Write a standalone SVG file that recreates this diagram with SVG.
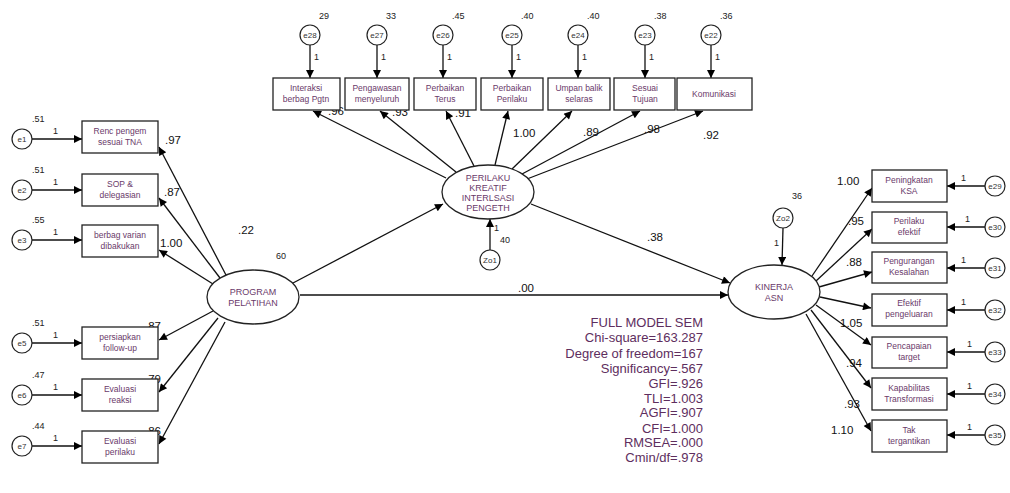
<svg xmlns="http://www.w3.org/2000/svg" width="1010" height="493" viewBox="0 0 1010 493">
<defs>
<marker id="ah" viewBox="0 0 10 10" refX="10" refY="5" markerWidth="11" markerHeight="8" markerUnits="userSpaceOnUse" orient="auto"><path d="M0,0 L10,5 L0,10 z" fill="#000"/></marker>
<style>
.bx{fill:#fff;stroke:#222;stroke-width:1.3}
.el{fill:#fff;stroke:#222;stroke-width:1.3}
.ec{fill:#fff;stroke:#222;stroke-width:1.2}
.bt{font-family:"Liberation Sans",Arial,sans-serif;font-size:8.5px;fill:#6a3a6a;text-anchor:middle}
.lt{font-family:"Liberation Sans",Arial,sans-serif;font-size:9px;fill:#6a3a6a;text-anchor:middle}
.et{font-family:"Liberation Sans",Arial,sans-serif;font-size:8px;fill:#333;text-anchor:middle}
.n{font-family:"Liberation Sans",Arial,sans-serif;font-size:11.5px;fill:#111}
.v{font-family:"Liberation Sans",Arial,sans-serif;font-size:9px;fill:#222}
.one{font-family:"Liberation Sans",Arial,sans-serif;font-size:9px;fill:#222}
.st{font-family:"Liberation Sans",Arial,sans-serif;font-size:13px;fill:#5e2e5e;text-anchor:end}
.c line{stroke:#111;stroke-width:1.3;marker-end:url(#ah)}
</style>
</defs>
<rect width="1010" height="493" fill="#fff"/>

<g class="c" id="connectors">
<line x1="310" y1="45" x2="310" y2="78"/>
<line x1="377" y1="45" x2="377" y2="78"/>
<line x1="443" y1="45" x2="443" y2="78"/>
<line x1="512" y1="45" x2="512" y2="78"/>
<line x1="578" y1="45" x2="578" y2="78"/>
<line x1="645" y1="45" x2="645" y2="78"/>
<line x1="711" y1="45" x2="711" y2="78"/>
<line x1="32" y1="139" x2="82" y2="139"/>
<line x1="32" y1="190" x2="82" y2="190"/>
<line x1="32" y1="240" x2="82" y2="240"/>
<line x1="32" y1="343" x2="82" y2="343"/>
<line x1="32" y1="395" x2="82" y2="395"/>
<line x1="32" y1="446" x2="82" y2="446"/>
<line x1="985" y1="186" x2="947" y2="186"/>
<line x1="985" y1="227" x2="947" y2="227"/>
<line x1="985" y1="268" x2="947" y2="268"/>
<line x1="985" y1="310" x2="947" y2="310"/>
<line x1="985" y1="352" x2="947" y2="352"/>
<line x1="985" y1="394" x2="947" y2="394"/>
<line x1="985" y1="435" x2="947" y2="435"/>
<line x1="446" y1="178" x2="313" y2="111"/>
<line x1="456" y1="172" x2="380" y2="111"/>
<line x1="474" y1="166" x2="446" y2="111"/>
<line x1="495" y1="165" x2="508" y2="111"/>
<line x1="512" y1="169" x2="572" y2="111"/>
<line x1="522" y1="174" x2="640" y2="111"/>
<line x1="527" y1="179" x2="703" y2="111"/>
<line x1="226" y1="275" x2="159" y2="147"/>
<line x1="220" y1="278" x2="159" y2="198"/>
<line x1="213" y1="284" x2="159" y2="250"/>
<line x1="213" y1="311" x2="159" y2="340"/>
<line x1="218" y1="318" x2="159" y2="392"/>
<line x1="225" y1="322" x2="159" y2="444"/>
<line x1="812" y1="276" x2="872" y2="188"/>
<line x1="816" y1="281" x2="872" y2="229"/>
<line x1="819" y1="287" x2="872" y2="272"/>
<line x1="820" y1="297" x2="871" y2="308"/>
<line x1="816" y1="305" x2="871" y2="345"/>
<line x1="811" y1="310" x2="871" y2="388"/>
<line x1="806" y1="314" x2="871" y2="431"/>
<line x1="293" y1="283" x2="443" y2="204"/>
<line x1="300" y1="295" x2="728" y2="295"/>
<line x1="531" y1="204" x2="730" y2="283"/>
<line x1="490" y1="250" x2="490" y2="219"/>
<line x1="783" y1="228" x2="782" y2="265"/>
</g>

<g id="labels-paths">
<text class="one" x="314" y="60">1</text>
<text class="one" x="381" y="60">1</text>
<text class="one" x="447" y="60">1</text>
<text class="one" x="516" y="60">1</text>
<text class="one" x="582" y="60">1</text>
<text class="one" x="649" y="60">1</text>
<text class="one" x="715" y="60">1</text>
<text class="one" x="53" y="134">1</text>
<text class="one" x="53" y="185">1</text>
<text class="one" x="53" y="235">1</text>
<text class="one" x="53" y="338">1</text>
<text class="one" x="53" y="390">1</text>
<text class="one" x="53" y="441">1</text>
<text class="one" x="961" y="181">1</text>
<text class="one" x="965" y="222">1</text>
<text class="one" x="961" y="263">1</text>
<text class="one" x="961" y="305">1</text>
<text class="one" x="967" y="347">1</text>
<text class="one" x="967" y="389">1</text>
<text class="one" x="967" y="430">1</text>
<text class="one" x="494" y="231">1</text>
<text class="one" x="774" y="246">1</text>
<text class="n" x="328" y="115">.96</text>
<text class="n" x="392" y="116">.93</text>
<text class="n" x="455" y="117">.91</text>
<text class="n" x="513" y="137">1.00</text>
<text class="n" x="583" y="136">.89</text>
<text class="n" x="644" y="133">.98</text>
<text class="n" x="703" y="139">.92</text>
<text class="n" x="165" y="144">.97</text>
<text class="n" x="164" y="196">.87</text>
<text class="n" x="160" y="247">1.00</text>
<text class="n" x="145" y="330">.87</text>
<text class="n" x="145" y="383">.79</text>
<text class="n" x="145" y="435">.86</text>
<text class="n" x="837" y="185">1.00</text>
<text class="n" x="848" y="225">.95</text>
<text class="n" x="846" y="266">.88</text>
<text class="n" x="840" y="327">1.05</text>
<text class="n" x="846" y="367">.94</text>
<text class="n" x="844" y="408">.93</text>
<text class="n" x="831" y="434">1.10</text>
<text class="n" x="238" y="234">.22</text>
<text class="n" x="518" y="292">.00</text>
<text class="n" x="647" y="241">.38</text>
</g>

<g id="e28"><circle class="ec" cx="310" cy="35" r="10"/><text class="et" x="310" y="38">e28</text><text class="v" x="319" y="19">29</text></g>
<g id="e27"><circle class="ec" cx="377" cy="35" r="10"/><text class="et" x="377" y="38">e27</text><text class="v" x="386" y="19">33</text></g>
<g id="e26"><circle class="ec" cx="443" cy="35" r="10"/><text class="et" x="443" y="38">e26</text><text class="v" x="452" y="19">.45</text></g>
<g id="e25"><circle class="ec" cx="512" cy="35" r="10"/><text class="et" x="512" y="38">e25</text><text class="v" x="521" y="19">.40</text></g>
<g id="e24"><circle class="ec" cx="578" cy="35" r="10"/><text class="et" x="578" y="38">e24</text><text class="v" x="587" y="19">.40</text></g>
<g id="e23"><circle class="ec" cx="645" cy="35" r="10"/><text class="et" x="645" y="38">e23</text><text class="v" x="654" y="19">.38</text></g>
<g id="e22"><circle class="ec" cx="711" cy="35" r="10"/><text class="et" x="711" y="38">e22</text><text class="v" x="720" y="19">.36</text></g>

<g id="b-interaksi"><rect class="bx" x="273" y="78" width="67" height="32"/><text class="bt" x="306" y="91">Interaksi</text><text class="bt" x="306" y="102">berbag Pgtn</text></g>
<g id="b-pengawasan"><rect class="bx" x="345" y="78" width="64" height="32"/><text class="bt" x="377" y="91">Pengawasan</text><text class="bt" x="377" y="102">menyeluruh</text></g>
<g id="b-perbaikan-terus"><rect class="bx" x="414" y="78" width="62" height="32"/><text class="bt" x="445" y="91">Perbaikan</text><text class="bt" x="445" y="102">Terus</text></g>
<g id="b-perbaikan-perilaku"><rect class="bx" x="481" y="78" width="62" height="32"/><text class="bt" x="512" y="91">Perbaikan</text><text class="bt" x="512" y="102">Perilaku</text></g>
<g id="b-umpan"><rect class="bx" x="548" y="78" width="62" height="32"/><text class="bt" x="579" y="91">Umpan balik</text><text class="bt" x="579" y="102">selaras</text></g>
<g id="b-sesuai"><rect class="bx" x="614" y="78" width="61" height="32"/><text class="bt" x="645" y="91">Sesuai</text><text class="bt" x="645" y="102">Tujuan</text></g>
<g id="b-komunikasi"><rect class="bx" x="677" y="78" width="75" height="32"/><text class="bt" x="714" y="97">Komunikasi</text></g>

<g id="e1"><circle class="ec" cx="22" cy="139" r="10"/><text class="et" x="22" y="142">e1</text><text class="v" x="32" y="122">.51</text></g>
<g id="e2"><circle class="ec" cx="22" cy="190" r="10"/><text class="et" x="22" y="193">e2</text><text class="v" x="32" y="173">.51</text></g>
<g id="e3"><circle class="ec" cx="22" cy="240" r="10"/><text class="et" x="22" y="243">e3</text><text class="v" x="32" y="223">.55</text></g>
<g id="e5"><circle class="ec" cx="22" cy="343" r="10"/><text class="et" x="22" y="346">e5</text><text class="v" x="32" y="326">.51</text></g>
<g id="e6"><circle class="ec" cx="22" cy="395" r="10"/><text class="et" x="22" y="398">e6</text><text class="v" x="32" y="378">.47</text></g>
<g id="e7"><circle class="ec" cx="22" cy="446" r="10"/><text class="et" x="22" y="449">e7</text><text class="v" x="32" y="429">.44</text></g>

<g id="b-renc"><rect class="bx" x="82" y="121" width="76" height="32"/><text class="bt" x="120" y="134">Renc pengem</text><text class="bt" x="120" y="145">sesuai TNA</text></g>
<g id="b-sop"><rect class="bx" x="82" y="174" width="76" height="32"/><text class="bt" x="120" y="187">SOP &amp;</text><text class="bt" x="120" y="198">delegasian</text></g>
<g id="b-berbag"><rect class="bx" x="82" y="225" width="76" height="32"/><text class="bt" x="120" y="238">berbag varian</text><text class="bt" x="120" y="249">dibakukan</text></g>
<g id="b-persiapkan"><rect class="bx" x="82" y="327" width="76" height="32"/><text class="bt" x="120" y="340">persiapkan</text><text class="bt" x="120" y="351">follow-up</text></g>
<g id="b-evreaksi"><rect class="bx" x="82" y="379" width="76" height="32"/><text class="bt" x="120" y="392">Evaluasi</text><text class="bt" x="120" y="403">reaksi</text></g>
<g id="b-evperilaku"><rect class="bx" x="82" y="431" width="76" height="32"/><text class="bt" x="120" y="444">Evaluasi</text><text class="bt" x="120" y="455">perilaku</text></g>

<g id="b-ksa"><rect class="bx" x="872" y="170" width="75" height="32"/><text class="bt" x="909" y="183">Peningkatan</text><text class="bt" x="909" y="194">KSA</text></g>
<g id="b-efektif"><rect class="bx" x="872" y="212" width="75" height="31"/><text class="bt" x="909" y="224">Perilaku</text><text class="bt" x="909" y="235">efektif</text></g>
<g id="b-kesalahan"><rect class="bx" x="872" y="252" width="75" height="31"/><text class="bt" x="909" y="264">Pengurangan</text><text class="bt" x="909" y="275">Kesalahan</text></g>
<g id="b-pengeluaran"><rect class="bx" x="872" y="294" width="75" height="32"/><text class="bt" x="909" y="306">Efektif</text><text class="bt" x="909" y="317">pengeluaran</text></g>
<g id="b-target"><rect class="bx" x="872" y="337" width="75" height="31"/><text class="bt" x="909" y="349">Pencapaian</text><text class="bt" x="909" y="360">target</text></g>
<g id="b-kapabilitas"><rect class="bx" x="872" y="378" width="75" height="32"/><text class="bt" x="909" y="391">Kapabilitas</text><text class="bt" x="909" y="402">Transformasi</text></g>
<g id="b-tak"><rect class="bx" x="872" y="420" width="75" height="32"/><text class="bt" x="909" y="433">Tak</text><text class="bt" x="909" y="444">tergantikan</text></g>

<g id="e29"><circle class="ec" cx="995" cy="186" r="10"/><text class="et" x="995" y="189">e29</text></g>
<g id="e30"><circle class="ec" cx="995" cy="227" r="10"/><text class="et" x="995" y="230">e30</text></g>
<g id="e31"><circle class="ec" cx="995" cy="268" r="10"/><text class="et" x="995" y="271">e31</text></g>
<g id="e32"><circle class="ec" cx="995" cy="310" r="10"/><text class="et" x="995" y="313">e32</text></g>
<g id="e33"><circle class="ec" cx="995" cy="352" r="10"/><text class="et" x="995" y="355">e33</text></g>
<g id="e34"><circle class="ec" cx="995" cy="394" r="10"/><text class="et" x="995" y="397">e34</text></g>
<g id="e35"><circle class="ec" cx="995" cy="435" r="10"/><text class="et" x="995" y="438">e35</text></g>

<g id="program"><ellipse class="el" cx="253" cy="297" rx="46" ry="27"/><text class="lt" x="253" y="295">PROGRAM</text><text class="lt" x="253" y="306">PELATIHAN</text><text class="v" x="276" y="259">60</text></g>
<g id="perilaku"><ellipse class="el" cx="488" cy="192" rx="46" ry="27"/><text class="lt" x="488" y="181">PERILAKU</text><text class="lt" x="488" y="191">KREATIF</text><text class="lt" x="488" y="201">INTERLSASI</text><text class="lt" x="488" y="211">PENGETH</text></g>
<g id="zo1"><circle class="ec" cx="490" cy="260" r="10"/><text class="et" x="490" y="263">Zo1</text><text class="v" x="500" y="243">40</text></g>
<g id="kinerja"><ellipse class="el" cx="774" cy="292" rx="46" ry="27"/><text class="lt" x="774" y="290">KINERJA</text><text class="lt" x="774" y="301">ASN</text></g>
<g id="zo2"><circle class="ec" cx="783" cy="218" r="10"/><text class="et" x="783" y="221">Zo2</text><text class="v" x="792" y="199">36</text></g>

<g id="stats">
<text class="st" x="703" y="327">FULL MODEL SEM</text>
<text class="st" x="703" y="342">Chi-square=163.287</text>
<text class="st" x="703" y="358">Degree of freedom=167</text>
<text class="st" x="703" y="373">Significancy=.567</text>
<text class="st" x="703" y="388">GFI=.926</text>
<text class="st" x="703" y="403">TLI=1.003</text>
<text class="st" x="703" y="417">AGFI=.907</text>
<text class="st" x="703" y="433">CFI=1.000</text>
<text class="st" x="703" y="447">RMSEA=.000</text>
<text class="st" x="703" y="462">Cmin/df=.978</text>
</g>
</svg>
